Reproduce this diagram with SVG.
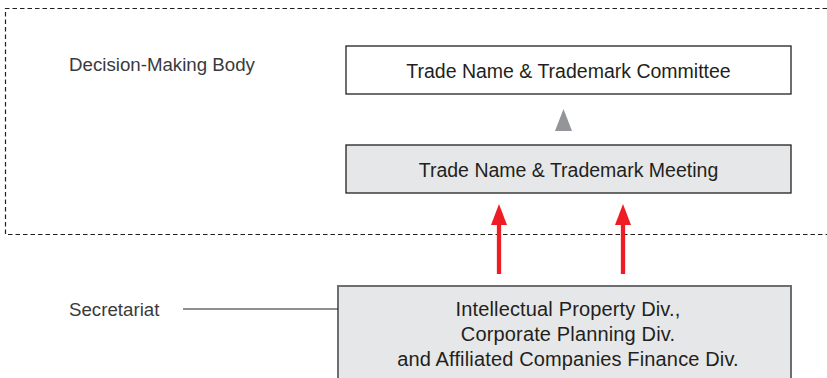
<svg xmlns="http://www.w3.org/2000/svg" width="827" height="378" viewBox="0 0 827 378">
  <style>
    .lbl { font-family: "Liberation Sans", Arial, sans-serif; font-size: 18.7px; fill: #3a3a3c; }
    .txt { font-family: "Liberation Sans", Arial, sans-serif; font-size: 19.5px; fill: #231f20; text-anchor: middle; }
    .sec { font-size: 20px; letter-spacing: 0.15px; }
    .box { stroke: #231f20; stroke-width: 1.3; }
  </style>
  <rect width="827" height="378" fill="#ffffff"/>

  <g id="decision-body">
    <path d="M827 8.5 H5.5 V234.5 H827" fill="none" stroke="#231f20" stroke-width="1.2" stroke-dasharray="4.5 3"/>
    <text class="lbl" x="69" y="71">Decision-Making Body</text>
  </g>

  <g id="committee">
    <rect class="box" x="346" y="46" width="445" height="48" fill="#ffffff"/>
    <text class="txt" x="568.5" y="78">Trade Name &amp; Trademark Committee</text>
  </g>

  <g id="meeting">
    <rect class="box" x="346" y="145" width="445" height="48" fill="#e6e7e8"/>
    <text class="txt" x="568.5" y="177">Trade Name &amp; Trademark Meeting</text>
  </g>

  <g id="secretariat">
    <text class="lbl" x="69" y="316">Secretariat</text>
    <rect x="338" y="286" width="453" height="110" fill="#e6e7e8" stroke="#6d6e71" stroke-width="2"/>
    <text class="txt sec" x="568" y="316">Intellectual Property Div.,</text>
    <text class="txt sec" x="568" y="341">Corporate Planning Div.</text>
    <text class="txt sec" x="568" y="366">and Affiliated Companies Finance Div.</text>
  </g>

  <g id="connectors">
    <path d="M555 131 L563.5 109 L572 131 Z" fill="#939598"/>
    <line x1="183" y1="309" x2="338" y2="309" stroke="#231f20" stroke-width="1"/>
    <line x1="499" y1="274" x2="499" y2="224" stroke="#ee1c25" stroke-width="4.3"/>
    <path d="M491 225 L499 204 L507 225 Z" fill="#ee1c25"/>
    <line x1="623" y1="274" x2="623" y2="224" stroke="#ee1c25" stroke-width="4.3"/>
    <path d="M615 225 L623 204 L631 225 Z" fill="#ee1c25"/>
  </g>
</svg>
